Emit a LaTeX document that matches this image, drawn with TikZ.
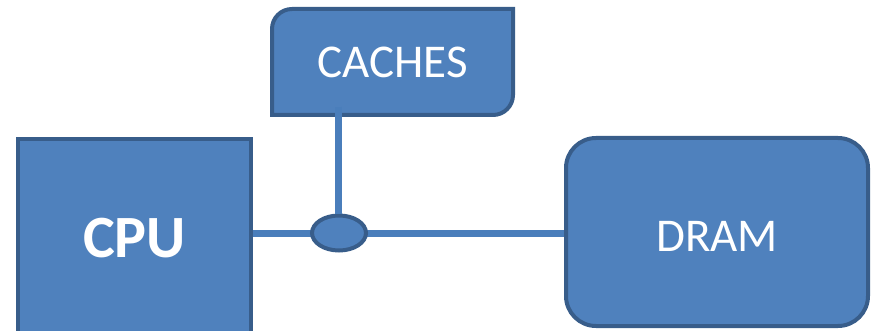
\documentclass[tikz,border=0pt]{standalone}
\usepackage{fontspec}
\setmainfont{Carlito}
\usetikzlibrary{shapes.geometric,backgrounds}
\definecolor{boxfill}{HTML}{4F81BD}
\definecolor{boxline}{HTML}{385D8A}
\definecolor{wirecol}{HTML}{4A7EBB}
\begin{document}
\begin{tikzpicture}[x=1pt,y=1pt,
  unit/.style={draw=boxline, fill=boxfill, line width=4pt, text=white, inner sep=0pt},
  wire/.style={draw=wirecol, line width=7pt},
  label/.style={text=white, font=\fontsize{47}{54}\selectfont}]
  \clip (0,0) rectangle (871,330);
  % processor block
  \node[unit, rectangle, minimum width=233pt, minimum height=198pt,
        font=\bfseries\fontsize{60}{68}\selectfont] (cpu) at (134.5,92) {CPU};
  % main memory block
  \node[unit, rectangle, rounded corners=30pt, minimum width=302pt, minimum height=188pt,
        label, text height=38pt] (dram) at (717,98) {DRAM};
  % cache block with two diagonally rounded corners
  \path[draw=boxline, fill=boxfill, line width=4pt]
    (272,215) -- (272,301) arc[start angle=180, end angle=90, radius=20pt]
    -- (513,321) -- (513,235) arc[start angle=0, end angle=-90, radius=20pt] -- cycle;
  \node[label, minimum width=241pt, minimum height=106pt, inner sep=0pt] (caches) at (392.5,268) {CACHES};
  % bus junction
  \node[unit, ellipse, minimum width=54pt, minimum height=35pt] (bus) at (339,97) {};
  \coordinate (tap) at (338,223);
  \begin{pgfonlayer}{background}
    \draw[wire] (cpu.east |- bus.center) -- (dram.west |- bus.center);
  \end{pgfonlayer}
  \draw[wire] (tap) -- (tap |- bus.north);
\end{tikzpicture}
\end{document}
